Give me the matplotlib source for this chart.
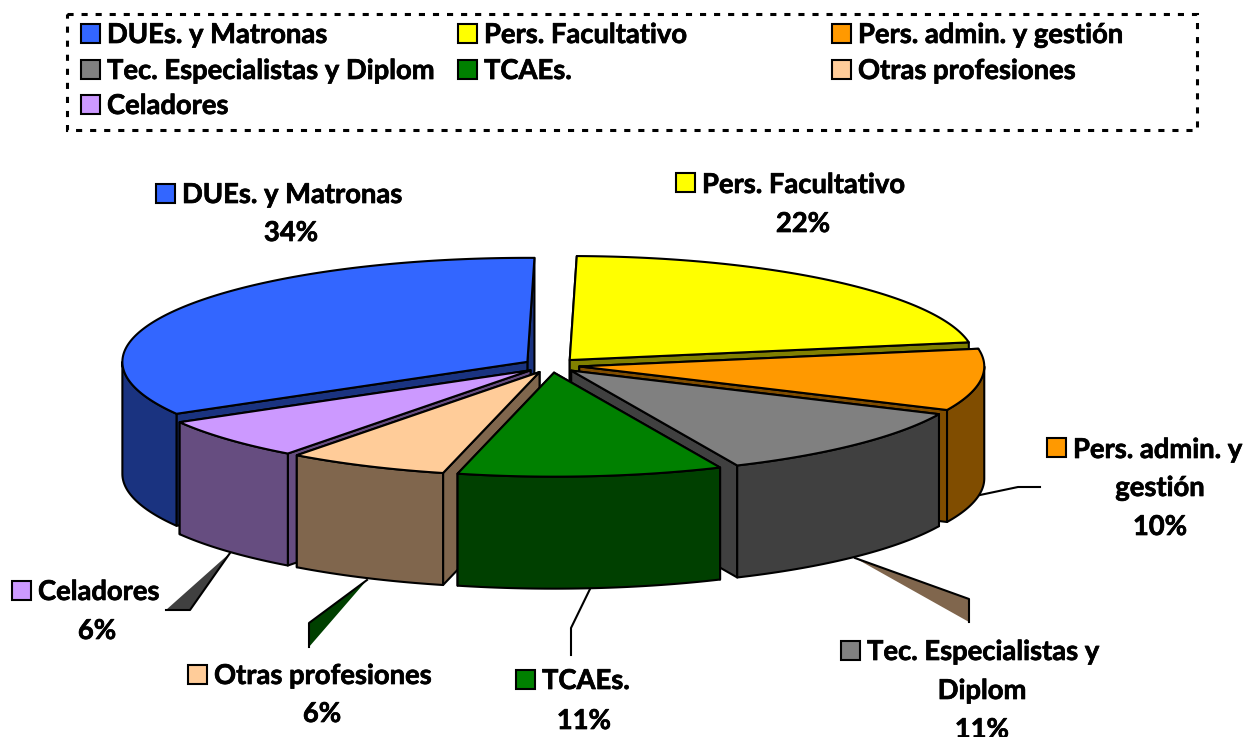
"""Exploded 3D pie of staff categories, drawn back to front."""

import matplotlib

matplotlib.use("Agg")
import matplotlib.patheffects as pe
import matplotlib.pyplot as plt
import numpy as np
from matplotlib.patches import Polygon, Rectangle

# data, in pie order, clockwise from 12 o'clock
categories = [
    "Pers. Facultativo",
    "Pers. admin. y gestión",
    "Tec. Especialistas y Diplom",
    "TCAEs.",
    "Otras profesiones",
    "Celadores",
    "DUEs. y Matronas",
]
shares = [22.0, 9.6, 11.4, 10.55, 6.4, 6.45, 33.6]
top_colors = ["#FFFF00", "#FF9900", "#808080", "#008000", "#FFCC99", "#CC99FF", "#3366FF"]
side_colors = ["#808000", "#804D00", "#404040", "#004000", "#80664D", "#664D80", "#1A3380"]

# legend reads in this order, three columns
legend_order = [6, 0, 1, 2, 3, 4, 5]

# pie geometry, pixels
CX, CY = 551.5, 365.5
RX, RY = 405, 104
DEPTH = 112
EXPLODE = 28
FIRST_ANGLE = 1
LW = 1.5
FONT = "Lato"
FS = 19.7

# label layout: name lines, swatch left/top, line centres
label_layout = [
    (["Pers. Facultativo"], 676, 173, 803, [185, 224]),
    (["Pers. admin. y", "gestión"], 1047, 438, 1160, [450, 488, 527]),
    (["Tec. Especialistas y", "Diplom"], 841, 641, 982, [652, 691, 730]),
    (["TCAEs."], 516, 670, 584, [681, 721]),
    (["Otras profesiones"], 188, 665, 322, [676, 714]),
    (["Celadores"], 12, 581, 97, [592, 631]),
    (["DUEs. y Matronas"], 156, 184, 291, [195, 233]),
]

# leader shapes: outline, fill (None for a plain line)
leaders = [
    ([(980, 495), (1018, 487), (1040, 487)], None),
    ([(855, 558), (969, 599), (969, 622)], 4),
    ([(590, 589), (571, 628), (571, 655)], None),
    ([(367, 580), (309, 623), (309, 647)], 3),
    ([(230, 553), (190, 610), (166, 610)], 2),
]

legend_x = [81, 458, 832]
legend_y = [35, 71, 106]


def ellipse_point(cx, cy, deg):
    rad = np.radians(deg)
    return cx + RX * np.sin(rad), cy - RY * np.cos(rad)


def draw_slice(ax, start, end, top, side, zorder):
    mid = np.radians((start + end) / 2)
    cx = CX + EXPLODE * np.sin(mid)
    cy = CY - EXPLODE * RY / RX * np.cos(mid)
    kw = dict(edgecolor="black", linewidth=LW, joinstyle="round", zorder=zorder)

    # radial walls, the one further back first
    for deg in sorted((start, end), key=lambda d: -np.cos(np.radians(d))):
        ex, ey = ellipse_point(cx, cy, deg)
        wall = [(cx, cy), (ex, ey), (ex, ey + DEPTH), (cx, cy + DEPTH)]
        ax.add_patch(Polygon(wall, facecolor=side, **kw))

    # rim, only the part that faces the viewer
    lo, hi = max(start, 90), min(end, 270)
    if lo < hi:
        ts = np.linspace(lo, hi, 80)
        xs, ys = ellipse_point(cx, cy, ts)
        rim = np.r_[np.c_[xs, ys], np.c_[xs, ys + DEPTH][::-1]]
        ax.add_patch(Polygon(rim, facecolor=side, **kw))

    ts = np.linspace(start, end, 160)
    xs, ys = ellipse_point(cx, cy, ts)
    ax.add_patch(Polygon(np.r_[[(cx, cy)], np.c_[xs, ys]], facecolor=top, **kw))


def swatch(ax, x, y, color, size=19):
    ax.add_patch(Rectangle((x, y), size, size, facecolor=color, edgecolor="black",
                           linewidth=LW, zorder=10))


fig = plt.figure(figsize=(12.49, 7.37), dpi=100)
ax = fig.add_axes([0, 0, 1, 1])
ax.set_xlim(0, 1249)
ax.set_ylim(737, 0)
ax.axis("off")

text_kw = dict(fontfamily=FONT, fontweight="bold", fontsize=FS, color="black", zorder=11,
               path_effects=[pe.withStroke(linewidth=0.5, foreground="black")])

# legend box
ax.add_patch(Rectangle((67, 14), 1130, 116, facecolor="none", edgecolor="black", linewidth=2.2,
                       linestyle=(0, (2, 2.6)), capstyle="butt", zorder=9))
for n, idx in enumerate(legend_order):
    row, col = n // 3, n % 3
    swatch(ax, legend_x[col], legend_y[row] - 11, top_colors[idx])
    ax.text(legend_x[col] + 26, legend_y[row], categories[idx], ha="left", va="center", **text_kw)

# slices, back to front
edges = FIRST_ANGLE + np.cumsum([0] + shares) / sum(shares) * 360
spans = list(zip(edges[:-1], edges[1:]))
mids = [(a + b) / 2 for a, b in spans]
order = sorted(range(len(shares)), key=lambda i: -np.cos(np.radians(mids[i])))
for z, i in enumerate(order):
    draw_slice(ax, spans[i][0], spans[i][1], top_colors[i], side_colors[i], 2 + z * 0.1)

# leader lines
for pts, fill in leaders:
    xs, ys = zip(*pts)
    if fill is not None:
        ax.add_patch(Polygon(pts, closed=True, facecolor=side_colors[fill], edgecolor="none", zorder=1))
    ax.plot(xs, ys, color="black", lw=1.5, zorder=1)

# data labels
for i, (lines, sx, sy, tx, ys) in enumerate(label_layout):
    swatch(ax, sx, sy, top_colors[i])
    ax.text(sx + 26, ys[0], lines[0], ha="left", va="center", **text_kw)
    for line, y in zip(lines[1:], ys[1:]):
        ax.text(tx, y, line, ha="center", va="center", **text_kw)
    ax.text(tx, ys[-1], f"{shares[i]:.0f}%", ha="center", va="center", **text_kw)

fig.savefig("out.png", dpi=100)
